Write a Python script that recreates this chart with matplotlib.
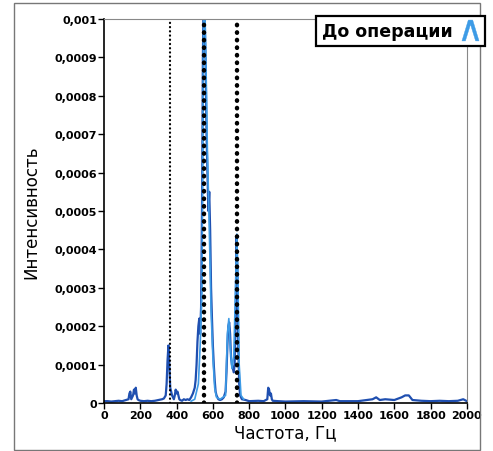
import numpy as np
import matplotlib.pyplot as plt
from matplotlib.lines import Line2D
from matplotlib.patches import Rectangle

# intensities are given in units of 1e-4
SCALE = 1e-4

freq_dark = [0, 20, 40, 60, 80, 100, 120, 135, 140, 145, 150, 155, 160, 165, 170, 175, 180, 185, 190,
             200, 220, 240, 260, 280, 300, 320, 330, 340, 345, 350, 355, 360, 365, 370, 375, 380, 385,
             390, 395, 400, 405, 410, 415, 420, 430, 440, 450, 460, 470, 480, 490, 500, 505, 510, 515,
             520, 525, 530, 535, 540, 545, 550, 555, 560, 565, 570, 575, 580, 585, 590, 595, 600, 605,
             610, 615, 620, 630, 640, 650, 660, 670, 675, 680, 685, 690, 695, 700, 705, 710, 715, 720,
             725, 730, 735, 740, 745, 750, 760, 780, 800, 850, 880, 900, 905, 910, 915, 920, 925, 930,
             960, 1000, 1100, 1200, 1280, 1300, 1400, 1480, 1500, 1520, 1550, 1600, 1640, 1660, 1680,
             1700, 1750, 1800, 1850, 1900, 1950, 1980, 2000]
int_dark = [0.05, 0.05, 0.04, 0.05, 0.06, 0.05, 0.08, 0.1, 0.25, 0.3, 0.1, 0.15, 0.2, 0.35, 0.25, 0.4,
            0.2, 0.1, 0.08, 0.06, 0.05, 0.06, 0.05, 0.06, 0.08, 0.1, 0.12, 0.2, 0.5, 1.1, 1.5, 1.0, 0.4,
            0.3, 0.2, 0.15, 0.1, 0.2, 0.35, 0.25, 0.3, 0.2, 0.1, 0.08, 0.06, 0.1, 0.08, 0.1, 0.08, 0.15,
            0.25, 0.4, 0.6, 1.0, 1.6, 2.0, 2.2, 1.8, 2.5, 5.0, 9.0, 11.0, 10.0, 8.8, 7.0, 6.0, 5.0, 5.5,
            4.5, 3.0, 2.2, 1.5, 1.0, 0.6, 0.3, 0.2, 0.1, 0.08, 0.1, 0.15, 0.3, 0.8, 1.5, 2.0, 2.1, 1.8,
            1.2, 1.0, 0.9, 0.8, 1.0, 2.0, 4.3, 3.5, 1.5, 0.5, 0.2, 0.1, 0.08, 0.05, 0.06, 0.05, 0.1,
            0.4, 0.35, 0.2, 0.25, 0.1, 0.06, 0.05, 0.04, 0.05, 0.04, 0.08, 0.05, 0.05, 0.1, 0.15, 0.08,
            0.1, 0.08, 0.15, 0.2, 0.2, 0.08, 0.06, 0.05, 0.06, 0.05, 0.06, 0.1, 0.05]

freq_light = [480, 500, 520, 530, 540, 548, 552, 558, 565, 570, 578, 585, 590, 600, 610, 620, 640,
              670, 680, 688, 695, 705, 715, 725, 732, 738, 745, 755, 770]
int_light = [0.05, 0.1, 0.5, 1.5, 3.0, 9.5, 10.5, 9.8, 8.0, 6.5, 5.0, 3.5, 2.4, 1.2, 0.4, 0.15, 0.1,
             0.2, 1.8, 2.2, 1.5, 0.9, 1.2, 3.0, 4.4, 3.2, 1.0, 0.2, 0.1]

marker_freqs = [365, 552, 735]
marker_widths = [1.6, 3.2, 3.2]

y_ticks = [0, 0.0001, 0.0002, 0.0003, 0.0004, 0.0005, 0.0006, 0.0007, 0.0008, 0.0009, 0.001]
y_labels = ["0", "0,0001", "0,0002", "0,0003", "0,0004", "0,0005", "0,0006", "0,0007", "0,0008",
            "0,0009", "0,001"]
x_ticks = list(range(0, 2001, 200))

fig = plt.figure(figsize=(4.93, 4.52), dpi=100)
ax = fig.add_axes([0.211, 0.106, 0.736, 0.85])

ax.plot(freq_dark, np.array(int_dark) * SCALE, color="#1f4fb0", lw=1.6)
ax.plot(freq_light, np.array(int_light) * SCALE, color="#3d9be6", lw=1.2)

for f, w in zip(marker_freqs, marker_widths):
    ax.axvline(f, color="black", lw=w, ls=(0, (0.1, 1.6)) if w > 2 else (0, (0.1, 1.8)),
               dash_capstyle="round")

ax.set_xlim(0, 2000)
ax.set_ylim(0, 0.001)
ax.set_xticks(x_ticks)
ax.set_xticklabels([str(t) for t in x_ticks], fontsize=8, fontweight="bold")
ax.set_yticks(y_ticks)
ax.set_yticklabels(y_labels, fontsize=8, fontweight="bold")
ax.tick_params(direction="out", length=4, width=1, pad=1)
ax.set_xlabel("Частота, Гц", fontsize=12, labelpad=2)
ax.set_ylabel("Интенсивность", fontsize=12, labelpad=10)
for s in ["top", "right"]:
    ax.spines[s].set_color("#888888")
for s in ["left", "bottom"]:
    ax.spines[s].set_linewidth(1.2)

handle = Line2D([], [], color="#3d9be6", marker="$\\wedge$", markersize=15, lw=0,
                markeredgewidth=0.3)
leg = fig.legend([handle], ["До операции"], loc="upper right", bbox_to_anchor=(0.983, 0.962),
                 markerfirst=False, fancybox=False, edgecolor="black", framealpha=1,
                 prop={"size": 12.5, "weight": "bold"}, handlelength=1.0, handletextpad=0.5,
                 borderpad=0.35, borderaxespad=0)
leg.get_frame().set_linewidth(1.6)

fig.patches.append(Rectangle((14 / 493, 1 / 452), 466 / 493, 447 / 452, transform=fig.transFigure,
                             fill=False, edgecolor="#777777", lw=1))

fig.savefig("out.png", dpi=100)
